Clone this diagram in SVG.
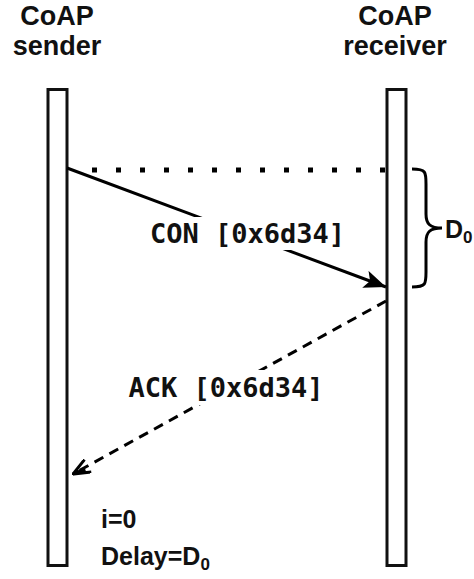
<svg xmlns="http://www.w3.org/2000/svg" width="474" height="579" viewBox="0 0 474 579">
<defs>
<style>
.hdr{font-family:"Liberation Sans",Arial,sans-serif;font-weight:bold;font-size:27px;fill:#111;text-anchor:middle}
.lbl{font-family:"Liberation Sans",Arial,sans-serif;font-weight:bold;font-size:25px;fill:#111}
.mono{font-family:"DejaVu Sans Mono",monospace;font-weight:bold;font-size:27px;fill:#111;text-anchor:middle}
.bar{fill:#fff;stroke:#111;stroke-width:3}
.ln{fill:none;stroke:#000;stroke-width:3}
</style>
<marker id="filled" viewBox="0 0 22 18" refX="22" refY="9" markerWidth="22" markerHeight="18" markerUnits="userSpaceOnUse" orient="auto">
<path d="M0,0 L22,9 L0,18 L5,9 Z" fill="#000"/>
</marker>
<marker id="open" viewBox="0 0 20 16" refX="19" refY="8" markerWidth="20" markerHeight="16" markerUnits="userSpaceOnUse" orient="auto">
<path d="M2,1 L19,8 L2,15 M6,6 L17,8" fill="none" stroke="#000" stroke-width="3"/>
</marker>
</defs>
<rect width="474" height="579" fill="#fff"/>
<g id="sender">
<text class="hdr" x="57" y="25">CoAP</text>
<text class="hdr" x="57" y="55">sender</text>
<rect class="bar" x="48" y="89.5" width="19" height="476"/>
</g>
<g id="receiver">
<text class="hdr" x="395" y="25">CoAP</text>
<text class="hdr" x="395" y="55">receiver</text>
<rect class="bar" x="387" y="89.5" width="19" height="476"/>
</g>
<g id="connectors">
<line x1="92" y1="170" x2="387" y2="170" stroke="#000" stroke-width="5" stroke-dasharray="5 19"/>
<line class="ln" x1="67" y1="168" x2="386" y2="287" marker-end="url(#filled)"/>
<line class="ln" x1="386" y1="301" x2="73" y2="474" stroke-dasharray="10 7" marker-end="url(#open)"/>
<path class="ln" d="M412,169 C426,169 426,172 426,184 L426,214 C426,224 430,228 442,228 C430,228 426,232 426,242 L426,272 C426,284 426,287 412,287"/>
</g>
<g id="con-label">
<rect x="146" y="217" width="202" height="33" fill="#fff"/>
<text class="mono" x="247.5" y="243">CON [0x6d34]</text>
</g>
<g id="ack-label">
<rect x="123" y="370" width="206" height="35" fill="#fff"/>
<text class="mono" x="226" y="397">ACK [0x6d34]</text>
</g>
<g id="d0">
<text class="lbl" x="445" y="238" font-size="26">D<tspan font-size="17" dy="5">0</tspan></text>
</g>
<g id="notes">
<text class="lbl" x="101" y="528">i=0</text>
<text class="lbl" x="101" y="565">Delay=D<tspan font-size="17" dy="5">0</tspan></text>
</g>
</svg>
